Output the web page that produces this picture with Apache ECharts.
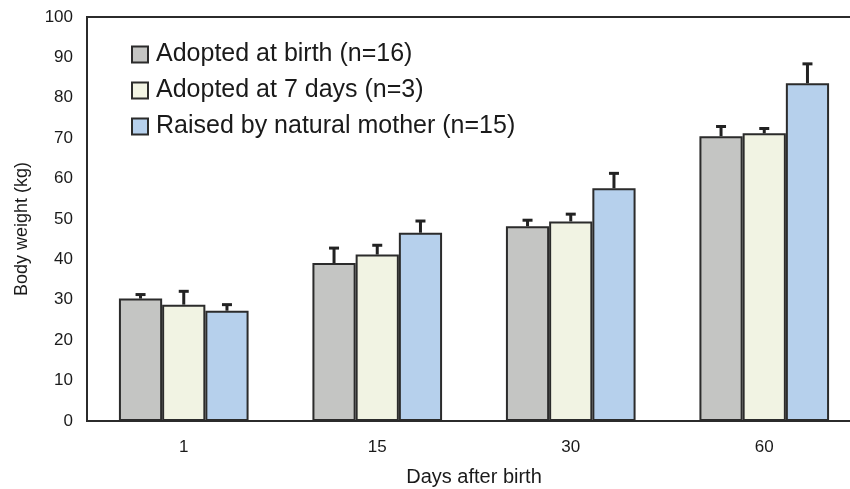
<!DOCTYPE html>
<html>
<head>
<meta charset="utf-8">
<script src="https://cdn.jsdelivr.net/npm/echarts@6/dist/echarts.min.js"></script>
<style>
  html, body { margin: 0; padding: 0; background: #fff; }
  #chart { width: 850px; height: 489px; }
</style>
</head>
<body>
<div id="chart"></div>
<script>
const days = ["1", "15", "30", "60"];
const seriesNames = [
  "Adopted at birth (n=16)",
  "Adopted at 7 days (n=3)",
  "Raised by natural mother (n=15)"
];
const adoptedBirth = [30.3, 39.1, 48.2, 70.5];
const adoptedBirthErr = [1.0, 3.7, 1.5, 2.4];
const adopted7 = [28.8, 41.2, 49.4, 71.2];
const adopted7Err = [3.3, 2.3, 1.8, 1.2];
const natural = [27.3, 46.6, 57.6, 83.6];
const naturalErr = [1.5, 2.9, 3.7, 4.8];
const yTicks = [0, 100, 10]; // min, max, interval

const font = "'Liberation Sans', Arial, Helvetica, sans-serif";
const ink = "#2b2b2b";
const colors = ["#c4c5c3", "#f1f3e3", "#b6d0ec"];
const catGap = 0.33;

const values = [adoptedBirth, adopted7, natural];
const errors = [adoptedBirthErr, adopted7Err, naturalErr];

const chart = echarts.init(document.getElementById("chart"));

// upper-only error bar, drawn over bar k of each group
function errorBar(k) {
  return function (params, api) {
    const band = api.size([1, 0])[0];
    const barW = band * (1 - catGap) / 3;
    const idx = api.value(0);
    const base = api.coord([idx, api.value(1)]);
    const top = api.coord([idx, api.value(1) + api.value(2)]);
    const x = base[0] + (k - 1) * barW;
    const style = { stroke: "#222", lineWidth: 3 };
    return {
      type: "group",
      children: [
        { type: "line", shape: { x1: x, y1: base[1], x2: x, y2: top[1] }, style: style },
        { type: "line", shape: { x1: x - 5, y1: top[1], x2: x + 5, y2: top[1] }, style: style }
      ]
    };
  };
}

const series = [];
values.forEach(function (vals, k) {
  series.push({
    name: seriesNames[k],
    type: "bar",
    data: vals,
    barGap: "0%",
    barCategoryGap: (catGap * 100) + "%",
    itemStyle: { color: colors[k], borderColor: ink, borderWidth: 2 },
    emphasis: { disabled: true }
  });
});
values.forEach(function (vals, k) {
  series.push({
    type: "custom",
    renderItem: errorBar(k),
    encode: { x: 0, y: 1 },
    data: vals.map(function (v, i) { return [i, v, errors[k][i]]; }),
    z: 5,
    silent: true
  });
});

chart.setOption({
  animation: false,
  backgroundColor: "#fff",
  textStyle: { fontFamily: font },
  grid: {
    left: 87, top: 17, width: 774, height: 404,
    outerBoundsMode: "none",
    containLabel: false,
    show: true, borderColor: ink, borderWidth: 2, backgroundColor: "transparent"
  },
  legend: {
    orient: "vertical",
    left: 131, top: 42,
    padding: 0,
    itemWidth: 16, itemHeight: 16, itemGap: 11,
    icon: "rect",
    data: seriesNames,
    textStyle: { fontSize: 25, color: "#1a1a1a", fontFamily: font, lineHeight: 24, padding: [0, 0, 0, 3] }
  },
  xAxis: {
    type: "category",
    data: days,
    name: "Days after birth",
    nameLocation: "middle",
    nameGap: 46,
    nameTextStyle: { fontSize: 20, color: "#1a1a1a", fontFamily: font },
    axisLine: { lineStyle: { color: ink, width: 2 } },
    axisTick: { show: false },
    axisLabel: { fontSize: 17, color: "#1a1a1a", margin: 18, fontFamily: font }
  },
  yAxis: {
    type: "value",
    min: yTicks[0], max: yTicks[1], interval: yTicks[2],
    name: "Body weight (kg)",
    nameLocation: "middle",
    nameGap: 56,
    nameTextStyle: { fontSize: 18, color: "#1a1a1a", fontFamily: font, padding: [0, 20, 0, 0] },
    axisLine: { show: true, lineStyle: { color: ink, width: 2 } },
    axisTick: { show: false },
    splitLine: { show: false },
    axisLabel: { fontSize: 17, color: "#1a1a1a", margin: 14, fontFamily: font }
  },
  series: series
});
</script>
</body>
</html>
